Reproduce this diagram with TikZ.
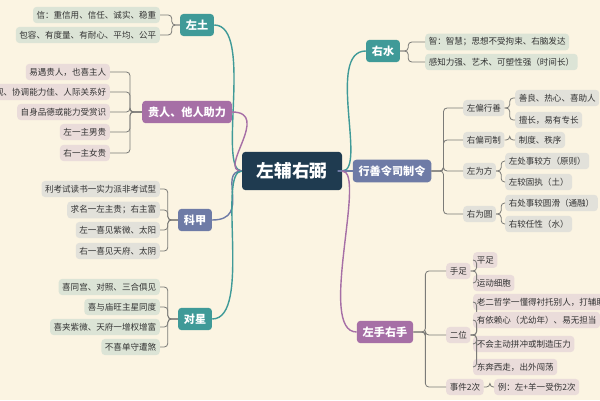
\documentclass[tikz,border=0pt]{standalone}
\usepackage{fontspec}
\setmainfont{Noto Sans CJK SC}
\usetikzlibrary{positioning}
\definecolor{bg}{HTML}{FBF4E2}
\definecolor{navy}{HTML}{1F3B50}
\definecolor{teal}{HTML}{3F9A98}
\definecolor{plum}{HTML}{A66FA6}
\definecolor{slate}{HTML}{6E7BA6}
\definecolor{leafg}{HTML}{DCE4D6}
\definecolor{leafp}{HTML}{EADCDA}
\definecolor{leafs}{HTML}{E2E1DA}
\definecolor{wire}{HTML}{7B7B78}

\tikzset{
  branch/.style={fill=#1, text=white, rounded corners=3pt, font=\fontsize{9.5}{11}\selectfont\bfseries, inner xsep=5pt, inner ysep=5pt},
  leaf/.style={fill=#1, text=black!80, rounded corners=3pt, font=\fontsize{7.3}{8}\selectfont, inner xsep=3pt, inner ysep=3.5pt},
  bline/.style={draw=#1, line width=1.2pt},
  wline/.style={draw=wire, line width=0.7pt, rounded corners=3pt}
}

\begin{document}
\begin{tikzpicture}[x=0.03cm, y=-0.03cm]
  \useasboundingbox[fill=bg] (0,0) rectangle (600,400);

  \node[fill=navy, text=white, rounded corners=3pt, font=\fontsize{15}{17}\selectfont\bfseries, minimum width=3cm, minimum height=1.15cm] (c) at (292,171) {左辅右弼};

  % branches
  \node[branch=teal] (zt) at (197,25) {左土};
  \node[branch=plum] (gr) at (187,112) {贵人、他人助力};
  \node[branch=slate] (kj) at (195,220) {科甲};
  \node[branch=teal] (dx) at (195,319) {对星};
  \node[branch=teal] (ys) at (383,51) {右水};
  \node[branch=slate] (xs) at (392,171) {行善令司制令};
  \node[branch=plum] (zs) at (385,332) {左手右手};

  \foreach \b/\col in {zt/teal, gr/plum, kj/slate, dx/teal}
    \draw[bline=\col] (c.west) .. controls +(-25,0) and +(40,0) .. (\b.east);
  \foreach \b/\col in {ys/teal, xs/slate, zs/plum}
    \draw[bline=\col] (c.east) .. controls +(25,0) and +(-40,0) .. (\b.west);

  % left leaves
  \foreach \t/\y [count=\i] in {信：重信用、信任、诚实、稳重/15, 包容、有度量、有耐心、平均、公平/35} {
    \node[leaf=leafg, anchor=east] (zt\i) at (160,\y) {\t};
    \draw[wline] (zt.west) -- ++(-8,0) |- (zt\i.east);
  }
  \foreach \t/\y [count=\i] in {易遇贵人，也喜主人/72, 乐观、协调能力佳、人际关系好/92, 自身品德或能力受赏识/112, 左一主男贵/132, 右一主女贵/153} {
    \node[leaf=leafp, anchor=east] (gr\i) at (110,\y) {\t};
    \draw[wline] (gr.west) -- ++(-12,0) |- (gr\i.east);
  }
  \foreach \t/\y [count=\i] in {利考试读书一实力派非考试型/189, 求名一左主贵；右主富/210, 左一喜见紫微、太阳/230, 右一喜见天府、太阴/251} {
    \node[leaf=leafs, anchor=east] (kj\i) at (160,\y) {\t};
    \draw[wline] (kj.west) -- ++(-10,0) |- (kj\i.east);
  }
  \foreach \t/\y [count=\i] in {喜同宫、对照、三合俱见/287, 喜与庙旺主星同度/307, 喜夹紫微、天府一增权增富/327, 不喜单守遭煞/347} {
    \node[leaf=leafg, anchor=east] (dx\i) at (160,\y) {\t};
    \draw[wline] (dx.west) -- ++(-10,0) |- (dx\i.east);
  }

  % right leaves
  \foreach \t/\y [count=\i] in {智：智慧；思想不受拘束、右脑发达/42, 感知力强、艺术、可塑性强（时间长）/62} {
    \node[leaf=leafg, anchor=west] (ys\i) at (425,\y) {\t};
    \draw[wline] (ys.east) -- ++(8,0) |- (ys\i.west);
  }

  \foreach \t/\y [count=\i] in {左偏行善/108, 右偏司制/140, 左为方/171, 右为圆/214} {
    \node[leaf=leafs, anchor=west] (xs\i) at (463,\y) {\t};
    \draw[wline] (xs.east) -- ++(12,0) |- (xs\i.west);
  }
  \foreach \p/\t/\y/\x [count=\i] in {1/善良、热心、喜助人/98/515, 1/擅长，易有专长/120/515, 2/制度、秩序/140/515,
      3/左处事较方（原则）/161/505, 3/左较固执（土）/182/505, 4/右处事较圆滑（通融）/203/505, 4/右较任性（水）/224/505} {
    \node[leaf=leafs, anchor=west] (xl\i) at (\x,\y) {\t};
    \draw[wline] (xs\p.east) -- ++(5,0) |- (xl\i.west);
  }

  \foreach \t/\y [count=\i] in {手足/271, 二位/335, 事件2次/387} {
    \node[leaf=leafp, anchor=west] (zs\i) at (446,\y) {\t};
    \draw[wline] (zs.east) -- ++(12,0) |- (zs\i.west);
  }
  \foreach \p/\t/\y/\x [count=\i] in {1/平足/260/473, 1/运动细胞/283/473, 2/老二哲学一懂得衬托别人，打辅助/302/473,
      2/有依赖心（尤幼年）、易无担当/320/473, 2/不会主动拼冲或制造压力/344/473, 2/东奔西走，出外闯荡/367/473, 3/例：左+羊一受伤2次/387/494} {
    \node[leaf=leafp, anchor=west] (zl\i) at (\x,\y) {\t};
    \draw[wline] (zs\p.east) -- ++(6,0) |- (zl\i.west);
  }
\end{tikzpicture}
\end{document}
